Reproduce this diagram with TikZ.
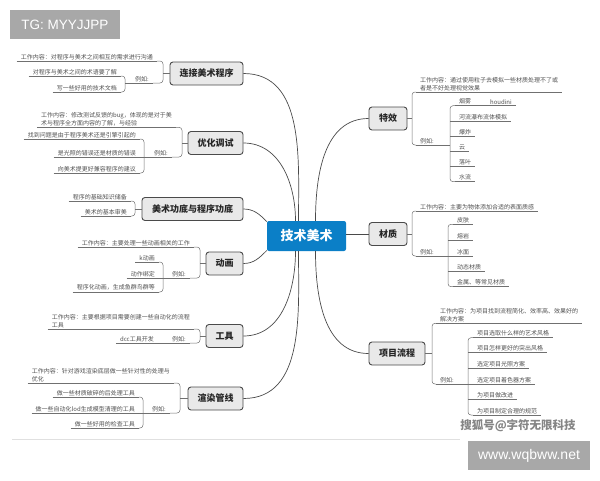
\documentclass[tikz,border=0pt]{standalone}
\usepackage{fontspec}
\setmainfont{Noto Sans CJK SC}
\newfontfamily\tagfont{Liberation Sans}
\usepackage{tikz}
\definecolor{tmblue}{HTML}{0B7FC7}
\definecolor{boxfill}{HTML}{E9E9E9}
\definecolor{boxline}{HTML}{4A4A4A}
\definecolor{txt}{HTML}{505050}
\definecolor{lineg}{HTML}{707070}
\definecolor{tagg}{HTML}{A8A8A8}
\tikzstyle{root}=[rectangle,rounded corners=2pt,fill=tmblue,text=white,font=\fontsize{13}{15}\selectfont\bfseries,minimum width=79pt,minimum height=30pt,inner sep=0pt]
\tikzstyle{branch}=[rectangle,rounded corners=3pt,draw=boxline,line width=0.9pt,fill=boxfill,text=black!85,font=\fontsize{9}{11}\selectfont\bfseries,minimum height=23pt,inner sep=0pt]
\tikzstyle{uline}=[draw=lineg,line width=0.5pt]
\tikzstyle{conn}=[draw=boxline,line width=0.7pt]
\tikzstyle{leafL}=[anchor=south east,font=\fontsize{6}{7.7}\selectfont,text=txt,inner xsep=4pt,inner ysep=1.2pt,align=left,append after command={(\tikzlastnode.south west) edge[uline] (\tikzlastnode.south east)}]
\tikzstyle{leafR}=[anchor=south west,font=\fontsize{6}{7.7}\selectfont,text=txt,inner xsep=4pt,inner ysep=1.2pt,align=left,append after command={(\tikzlastnode.south west) edge[uline] (\tikzlastnode.south east)}]
\tikzstyle{tagbox}=[rectangle,fill=tagg,text=white,font=\tagfont\fontsize{13.5}{15}\selectfont,inner sep=0pt]
\begin{document}
\begin{tikzpicture}[x=1pt,y=-1pt]
\useasboundingbox (0,0) rectangle (600,480);
\node[tagbox,minimum width=110pt,minimum height=29pt] (tg) at (65,24.5) {TG: MYYJJPP};

% center
\node[root] (tm) at (306.5,236) {技术美术};

% left: 连接美术程序
\node[branch,minimum width=73pt] (lj) at (206.5,73.5) {连接美术程序};
\coordinate (lj-o) at (163,73.5);
\coordinate (lj-i) at (125,83);
\node[leafL] (lj-w) at (157,61) {工作内容：对程序与美术之间相互的需求进行沟通};
\node[leafL] (lj-e) at (153,83) {例如:};
\node[leafL] (lj-1) at (121,76) {对程序与美术之间的术语要了解};
\node[leafL] (lj-2) at (121,92) {写一些好用的技术文档};
\draw[uline,rounded corners=3pt] (lj-w.south east) -| (lj-o) |- (lj-e.south east);
\draw[uline] (lj-o) -- (lj.west);
\draw[uline,rounded corners=3pt] (lj-1.south east) -| (lj-i) |- (lj-2.south east);
\draw[uline] (lj-i) -- (lj-e.south west);

% left: 优化调试
\node[branch,minimum width=55pt] (yh) at (215.5,143) {优化调试};
\coordinate (yh-o) at (182,143);
\coordinate (yh-i) at (144,157);
\node[leafL] (yh-w) at (176,127.3) {工作内容：修改测试反馈的bug，体现的是对于美\\术与程序全方面内容的了解，与经验};
\node[leafL] (yh-e) at (172,157) {例如:};
\node[leafL] (yh-1) at (140,139) {找到问题是由于程序美术还是引擎引起的};
\node[leafL] (yh-2) at (140,157) {是光照的错误还是材质的错误};
\node[leafL] (yh-3) at (140,173) {向美术提更好兼容程序的建议};
\draw[uline,rounded corners=3pt] (yh-w.south east) -| (yh-o) |- (yh-e.south east);
\draw[uline] (yh-o) -- (yh.west);
\draw[uline,rounded corners=3pt] (yh-1.south east) -| (yh-i) |- (yh-3.south east);
\draw[uline] (yh-2.south east) -- (yh-2.south east -| yh-i);
\draw[uline] (yh-i) -- (yh-e.south west);

% left: 美术功底与程序功底
\node[branch,minimum width=101pt] (jc) at (192.5,209) {美术功底与程序功底};
\coordinate (jc-o) at (135,209);
\node[leafL] (jc-1) at (131,201) {程序的基础知识储备};
\node[leafL] (jc-2) at (131,216) {美术的基本审美};
\draw[uline,rounded corners=3pt] (jc-1.south east) -| (jc-o) |- (jc-2.south east);
\draw[uline] (jc-o) -- (jc.west);

% left: 动画
\node[branch,minimum width=37pt] (dh) at (224.5,263.5) {动画};
\coordinate (dh-o) at (200,263.5);
\coordinate (dh-i) at (163,278);
\node[leafL] (dh-w) at (194,247) {工作内容：主要处理一些动画相关的工作};
\node[leafL] (dh-e) at (190,278) {例如:};
\node[leafL] (dh-1) at (159,262) {k动画};
\node[leafL] (dh-2) at (159,278) {动作绑定};
\node[leafL] (dh-3) at (159,292) {程序化动画，生成鱼群鸟群等};
\draw[uline,rounded corners=3pt] (dh-w.south east) -| (dh-o) |- (dh-e.south east);
\draw[uline] (dh-o) -- (dh.west);
\draw[uline,rounded corners=3pt] (dh-1.south east) -| (dh-i) |- (dh-3.south east);
\draw[uline] (dh-2.south east) -- (dh-2.south east -| dh-i);
\draw[uline] (dh-i) -- (dh-e.south west);

% left: 工具
\node[branch,minimum width=37pt] (gj) at (224.5,336) {工具};
\coordinate (gj-o) at (200,336);
\node[leafL] (gj-w) at (194,329) {工作内容：主要根据项目需要创建一些自动化的流程\\工具};
\node[leafL] (gj-e) at (190,343) {例如:};
\node[leafL] (gj-1) at (158,343) {dcc工具开发};
\draw[uline,rounded corners=3pt] (gj-w.south east) -| (gj-o) |- (gj-e.south east);
\draw[uline] (gj-o) -- (gj.west);
\draw[uline] (gj-1.south east) -- (gj-e.south west);

% left: 渲染管线
\node[branch,minimum width=55pt] (xr) at (215.5,398.5) {渲染管线};
\coordinate (xr-o) at (180,398.5);
\coordinate (xr-i) at (143,413);
\node[leafL] (xr-w) at (174,383) {工作内容：针对游戏渲染底层做一些针对性的处理与\\优化};
\node[leafL] (xr-e) at (170,413) {例如:};
\node[leafL] (xr-1) at (139,397) {做一些材质破碎的后处理工具};
\node[leafL] (xr-2) at (139,413) {做一些自动化lod生成模型清理的工具};
\node[leafL] (xr-3) at (139,428) {做一些好用的检查工具};
\draw[uline,rounded corners=3pt] (xr-w.south east) -| (xr-o) |- (xr-e.south east);
\draw[uline] (xr-o) -- (xr.west);
\draw[uline,rounded corners=3pt] (xr-1.south east) -| (xr-i) |- (xr-3.south east);
\draw[uline] (xr-2.south east) -- (xr-2.south east -| xr-i);
\draw[uline] (xr-i) -- (xr-e.south west);

% right: 特效
\node[branch,minimum width=38pt] (tx) at (388,118.5) {特效};
\coordinate (tx-o) at (412,118.5);
\coordinate (tx-i) at (450,145);
\node[leafR] (tx-w) at (416,92) {工作内容：通过使用粒子去模拟一些材质处理不了或\\者是不好处理视觉效果};
\node[leafR] (tx-e) at (416,145) {例如:};
\node[leafR] (tx-1) at (455,105.7) {烟雾};
\node[leafR] (tx-h) at (486,105.7) {houdini};
\node[leafR] (tx-2) at (455,121) {河流瀑布流体模拟};
\node[leafR] (tx-3) at (455,136.7) {爆炸};
\node[leafR] (tx-4) at (455,151.7) {云};
\node[leafR] (tx-5) at (455,166.7) {落叶};
\node[leafR] (tx-6) at (455,181.7) {水流};
\draw[uline,rounded corners=3pt] (tx-w.south west) -| (tx-o) |- (tx-e.south west);
\draw[uline] (tx-o) -- (tx.east);
\draw[uline,rounded corners=3pt] (tx-1.south west) -| (tx-i) |- (tx-6.south west);
\draw[uline] (tx-2.south west) -- (tx-2.south west -| tx-i);
\draw[uline] (tx-3.south west) -- (tx-3.south west -| tx-i);
\draw[uline] (tx-4.south west) -- (tx-4.south west -| tx-i);
\draw[uline] (tx-5.south west) -- (tx-5.south west -| tx-i);
\draw[uline] (tx-i) -- (tx-e.south east);
\draw[uline] (tx-1.south east) -- (tx-h.south west);

% right: 材质
\node[branch,minimum width=38pt] (cz) at (388,234) {材质};
\coordinate (cz-o) at (412,234);
\coordinate (cz-i) at (448,256);
\node[leafR] (cz-w) at (416,211) {工作内容：主要为物体添加合适的表面质感};
\node[leafR] (cz-e) at (416,256) {例如:};
\node[leafR] (cz-1) at (453,224.3) {皮肤};
\node[leafR] (cz-2) at (453,240) {熔岩};
\node[leafR] (cz-3) at (453,256) {冰面};
\node[leafR] (cz-4) at (453,271) {动态材质};
\node[leafR] (cz-5) at (453,286.7) {金属、等常见材质};
\draw[uline,rounded corners=3pt] (cz-w.south west) -| (cz-o) |- (cz-e.south west);
\draw[uline] (cz-o) -- (cz.east);
\draw[uline,rounded corners=3pt] (cz-1.south west) -| (cz-i) |- (cz-5.south west);
\draw[uline] (cz-2.south west) -- (cz-2.south west -| cz-i);
\draw[uline] (cz-3.south west) -- (cz-3.south west -| cz-i);
\draw[uline] (cz-4.south west) -- (cz-4.south west -| cz-i);
\draw[uline] (cz-i) -- (cz-e.south east);

% right: 项目流程
\node[branch,minimum width=56pt] (xm) at (397,353.5) {项目流程};
\coordinate (xm-o) at (432,353.5);
\coordinate (xm-i) at (468,384);
\node[leafR] (xm-w) at (436,323.3) {工作内容：为项目找到流程简化、效率高、效果好的\\解决方案};
\node[leafR] (xm-e) at (436,384) {例如:};
\node[leafR] (xm-1) at (473,337.7) {项目选取什么样的艺术风格};
\node[leafR] (xm-2) at (473,352.7) {项目怎样更好的突出风格};
\node[leafR] (xm-3) at (473,368.3) {选定项目光照方案};
\node[leafR] (xm-4) at (473,384) {选定项目着色器方案};
\node[leafR] (xm-5) at (473,399.3) {为项目做改进};
\node[leafR] (xm-6) at (473,415) {为项目制定合理的规范};
\draw[uline,rounded corners=3pt] (xm-w.south west) -| (xm-o) |- (xm-e.south west);
\draw[uline] (xm-o) -- (xm.east);
\draw[uline,rounded corners=3pt] (xm-1.south west) -| (xm-i) |- (xm-6.south west);
\draw[uline] (xm-2.south west) -- (xm-2.south west -| xm-i);
\draw[uline] (xm-3.south west) -- (xm-3.south west -| xm-i);
\draw[uline] (xm-4.south west) -- (xm-4.south west -| xm-i);
\draw[uline] (xm-5.south west) -- (xm-5.south west -| xm-i);
\draw[uline] (xm-i) -- (xm-e.south east);

% center to branches
\draw[conn] (lj.east) to[out=0,in=90] ([xshift=-8pt]tm.north);
\draw[conn] (yh.east) to[out=0,in=90] ([xshift=-11pt]tm.north);
\draw[conn] (jc.east) to[out=0,in=135] (tm.160);
\draw[conn] (dh.east) to[out=0,in=-135] (tm.200);
\draw[conn] (gj.east) to[out=0,in=-90] ([xshift=-11pt]tm.south);
\draw[conn] (xr.east) to[out=0,in=-90] ([xshift=-8pt]tm.south);
\draw[conn] (tx.west) to[out=180,in=90] ([xshift=9pt]tm.north);
\draw[conn] (cz.west) -- (cz.west -| tm.east);
\draw[conn] (xm.west) to[out=180,in=-90] ([xshift=9pt]tm.south);

% bottom
\coordinate (edge-l) at (12,439);
\coordinate (edge-r) at (460,439);
\draw[black!12,line width=0.6pt] (edge-l) -- (edge-r);
\node[text=black!48,font=\fontsize{11.5}{13}\selectfont\bfseries] (sh) at (518,426) {搜狐号@字符无限科技};
\node[tagbox,minimum width=122pt,minimum height=29pt,font=\tagfont\fontsize{14}{16}\selectfont] (ww) at (529,455.5) {www.wqbww.net};
\end{tikzpicture}
\end{document}
